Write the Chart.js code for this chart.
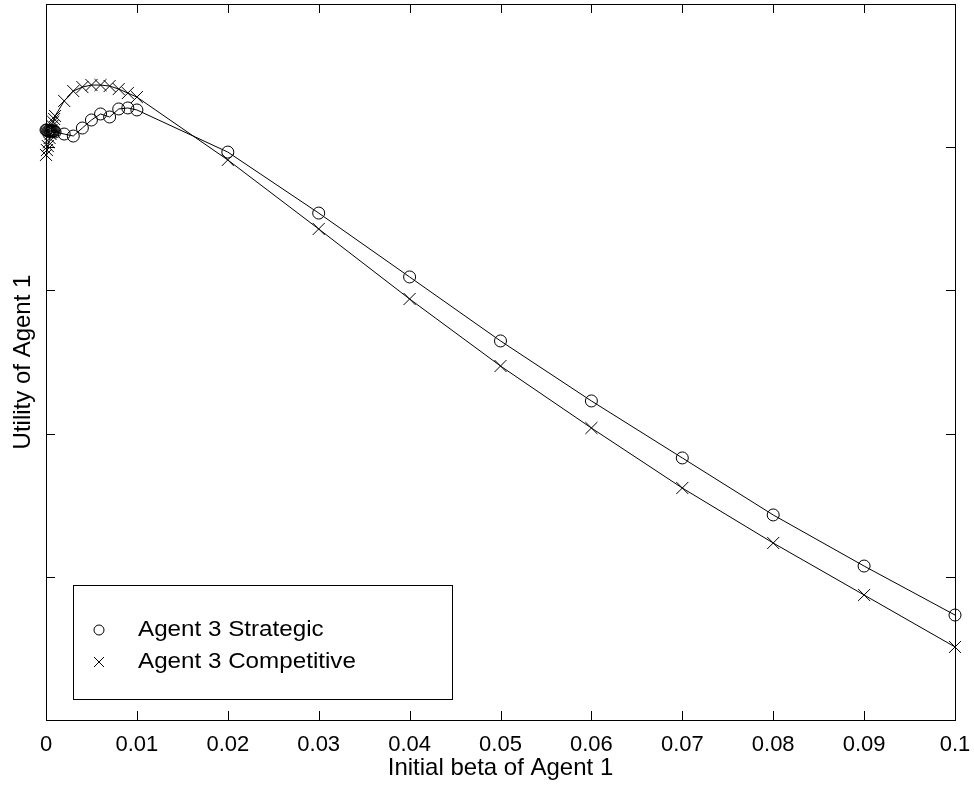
<!DOCTYPE html>
<html>
<head>
<meta charset="utf-8">
<script src="https://cdn.jsdelivr.net/npm/chart.js@4.4.1/dist/chart.umd.min.js"></script>
<style>
  html, body { margin: 0; padding: 0; background: #fff; }
  #wrap { width: 974px; height: 785px; }
</style>
</head>
<body>
<div id="wrap"><canvas id="myChart" width="974" height="785"></canvas></div>
<script>
const betaValues = [0, 0.0001, 0.0002, 0.0003, 0.0004, 0.0005, 0.0006, 0.0007, 0.0008, 0.0009, 0.001,
    0.002, 0.003, 0.004, 0.005, 0.006, 0.007, 0.008, 0.009, 0.01,
    0.02, 0.03, 0.04, 0.05, 0.06, 0.07, 0.08, 0.09, 0.1];

const strategicUtility = [4.120, 4.120, 4.113, 4.113, 4.113, 4.113, 4.113, 4.113, 4.113, 4.113, 4.106,
    4.092, 4.078, 4.134, 4.190, 4.232, 4.211, 4.267, 4.274, 4.260,
    3.966, 3.540, 3.094, 2.647, 2.228, 1.830, 1.432, 1.075, 0.733];

const competitiveUtility = [3.946, 3.980, 4.008, 4.036, 4.064, 4.092, 4.120, 4.148, 4.176, 4.197, 4.218,
    4.323, 4.392, 4.420, 4.434, 4.434, 4.427, 4.406, 4.378, 4.350,
    3.911, 3.429, 2.940, 2.472, 2.039, 1.620, 1.236, 0.873, 0.510];

const seriesLabels = ['Agent 3 Strategic', 'Agent 3 Competitive'];

const FONT = 'Arial, "Liberation Sans", Helvetica, sans-serif';
Chart.defaults.color = '#000';
Chart.defaults.font.family = FONT;

const toPoints = ys => betaValues.map((x, i) => ({x: x, y: ys[i]}));

// frame, inward ticks and boxed legend, matlab style
const matlabFrame = {
    id: 'matlabFrame',
    afterDraw(chart) {
        const {ctx, chartArea: ca, scales} = chart;
        const tick = 9;
        ctx.save();
        ctx.strokeStyle = '#000';
        ctx.lineWidth = 1;
        ctx.strokeRect(ca.left + 0.5, ca.top + 0.5, ca.right - ca.left, ca.bottom - ca.top);
        ctx.beginPath();
        scales.x.ticks.forEach(t => {
            const px = Math.round(scales.x.getPixelForValue(t.value)) + 0.5;
            ctx.moveTo(px, ca.bottom); ctx.lineTo(px, ca.bottom - tick);
            ctx.moveTo(px, ca.top); ctx.lineTo(px, ca.top + tick);
        });
        scales.y.ticks.forEach(t => {
            const py = Math.round(scales.y.getPixelForValue(t.value)) + 0.5;
            ctx.moveTo(ca.left, py); ctx.lineTo(ca.left + tick, py);
            ctx.moveTo(ca.right, py); ctx.lineTo(ca.right - tick, py);
        });
        ctx.stroke();

        // legend
        const bx = ca.left + 27, by = ca.bottom - 135, bw = 379, bh = 114;
        ctx.fillStyle = '#fff';
        ctx.fillRect(bx, by, bw, bh);
        ctx.strokeRect(bx + 0.5, by + 0.5, bw, bh);
        ctx.font = '22px ' + FONT;
        ctx.textBaseline = 'middle';
        ctx.fillStyle = '#000';
        const rows = [by + 45, by + 77];
        ctx.beginPath();
        ctx.arc(bx + 26, rows[0], 5, 0, Math.PI * 2);
        ctx.stroke();
        ctx.beginPath();
        ctx.moveTo(bx + 21, rows[1] - 5); ctx.lineTo(bx + 31, rows[1] + 5);
        ctx.moveTo(bx + 31, rows[1] - 5); ctx.lineTo(bx + 21, rows[1] + 5);
        ctx.stroke();
        seriesLabels.forEach((lbl, i) => {
            ctx.save();
            ctx.translate(bx + 65, rows[i]);
            ctx.scale(1.1, 1);
            ctx.fillText(lbl, 0, 0);
            ctx.restore();
        });
        ctx.restore();
    }
};

const config = {
    type: 'line',
    data: {
        datasets: [
            {
                label: seriesLabels[0],
                data: toPoints(strategicUtility),
                borderColor: '#000',
                borderWidth: 1,
                backgroundColor: 'rgba(0,0,0,0)',
                pointStyle: 'circle',
                pointRadius: 6,
                pointBorderWidth: 1,
                pointBorderColor: '#000',
                pointBackgroundColor: 'rgba(0,0,0,0)',
                tension: 0,
                clip: false,
            },
            {
                label: seriesLabels[1],
                data: toPoints(competitiveUtility),
                borderColor: '#000',
                borderWidth: 1,
                backgroundColor: 'rgba(0,0,0,0)',
                pointStyle: 'crossRot',
                pointRadius: 8.5,
                pointBorderWidth: 1,
                pointBorderColor: '#000',
                tension: 0,
                clip: false,
            }
        ]
    },
    options: {
        responsive: false,
        animation: false,
        events: [],
        layout: {
            autoPadding: false,
            padding: {top: 4, right: 19, left: 0, bottom: 0}
        },
        plugins: {
            legend: {display: false},
            tooltip: {enabled: false},
        },
        scales: {
            x: {
                type: 'linear',
                min: 0,
                max: 0.1,
                grid: {display: false, drawTicks: false},
                border: {display: false},
                ticks: {
                    stepSize: 0.01,
                    padding: 12,
                    maxRotation: 0,
                    font: {size: 22},
                    callback: v => String(Number(v.toFixed(2)))
                },
                title: {
                    display: true,
                    text: 'Initial beta of Agent 1',
                    font: {size: 24},
                    padding: {top: 0, bottom: 2}
                },
                afterFit: s => { s.height = 65; s.paddingLeft = 0; s.paddingRight = 0; }
            },
            y: {
                min: 0,
                max: 5,
                grid: {display: false, drawTicks: false},
                border: {display: false},
                ticks: {stepSize: 1, display: false},
                title: {
                    display: true,
                    text: 'Utility of Agent 1',
                    font: {size: 24},
                    padding: {top: 9, bottom: 0}
                },
                afterFit: s => { s.width = 46; }
            }
        }
    },
    plugins: [matlabFrame]
};

const graphe = new Chart(document.getElementById('myChart'), config);
</script>
</body>
</html>
